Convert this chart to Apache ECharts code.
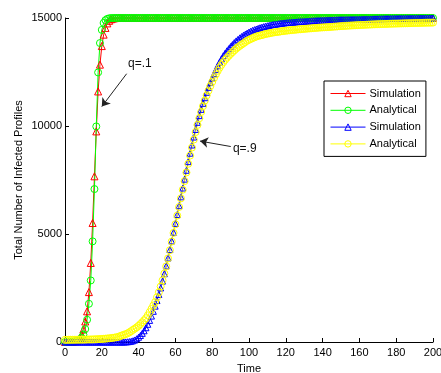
<!DOCTYPE html>
<html>
<head>
<meta charset="utf-8">
<script src="https://cdn.jsdelivr.net/npm/echarts@6/dist/echarts.min.js"></script>
<style>html,body{margin:0;padding:0;background:#fff}#c{width:441px;height:373px}</style>
</head>
<body>
<div id="c"></div>
<script>
// Time runs 0..200 in steps of 1 (index = time)
const xTicks = [0,20,40,60,80,100,120,140,160,180,200];
const yTicks = [0,5000,10000,15000];
const seriesNames = ['Simulation','Analytical','Simulation ','Analytical '];
const seriesColors = ['#ff0000','#00ff00','#0000ff','#ffff00'];
const seriesSymbols = ['triangle','circle','triangle','circle'];

const simQ1 = [
1,2,4,8,15,30,55,100,180,330,
580,950,1420,2310,3660,5510,7670,9750,11600,12840,
13700,14230,14540,14750,14870,14940,14970,14990,15000,15000,
15000,15000,15000,15000,15000,15000,15000,15000,15000,15000,
15000,15000,15000,15000,15000,15000,15000,15000,15000,15000,
15000,15000,15000,15000,15000,15000,15000,15000,15000,15000,
15000,15000,15000,15000,15000,15000,15000,15000,15000,15000,
15000,15000,15000,15000,15000,15000,15000,15000,15000,15000,
15000,15000,15000,15000,15000,15000,15000,15000,15000,15000,
15000,15000,15000,15000,15000,15000,15000,15000,15000,15000,
15000,15000,15000,15000,15000,15000,15000,15000,15000,15000,
15000,15000,15000,15000,15000,15000,15000,15000,15000,15000,
15000,15000,15000,15000,15000,15000,15000,15000,15000,15000,
15000,15000,15000,15000,15000,15000,15000,15000,15000,15000,
15000,15000,15000,15000,15000,15000,15000,15000,15000,15000,
15000,15000,15000,15000,15000,15000,15000,15000,15000,15000,
15000,15000,15000,15000,15000,15000,15000,15000,15000,15000,
15000,15000,15000,15000,15000,15000,15000,15000,15000,15000,
15000,15000,15000,15000,15000,15000,15000,15000,15000,15000,
15000,15000,15000,15000,15000,15000,15000,15000,15000,15000,
15000
];

const anaQ1 = [
1,2,3,6,11,20,35,62,110,195,
340,600,1030,1770,2850,4660,7080,9980,12480,13840,
14450,14770,14900,14960,14985,14995,15000,15000,15000,15000,
15000,15000,15000,15000,15000,15000,15000,15000,15000,15000,
15000,15000,15000,15000,15000,15000,15000,15000,15000,15000,
15000,15000,15000,15000,15000,15000,15000,15000,15000,15000,
15000,15000,15000,15000,15000,15000,15000,15000,15000,15000,
15000,15000,15000,15000,15000,15000,15000,15000,15000,15000,
15000,15000,15000,15000,15000,15000,15000,15000,15000,15000,
15000,15000,15000,15000,15000,15000,15000,15000,15000,15000,
15000,15000,15000,15000,15000,15000,15000,15000,15000,15000,
15000,15000,15000,15000,15000,15000,15000,15000,15000,15000,
15000,15000,15000,15000,15000,15000,15000,15000,15000,15000,
15000,15000,15000,15000,15000,15000,15000,15000,15000,15000,
15000,15000,15000,15000,15000,15000,15000,15000,15000,15000,
15000,15000,15000,15000,15000,15000,15000,15000,15000,15000,
15000,15000,15000,15000,15000,15000,15000,15000,15000,15000,
15000,15000,15000,15000,15000,15000,15000,15000,15000,15000,
15000,15000,15000,15000,15000,15000,15000,15000,15000,15000,
15000,15000,15000,15000,15000,15000,15000,15000,15000,15000,
15000
];

const simQ9 = [
0,0,0,0,0,0,0,0,0,0,
0,0,0,0,0,0,0,0,0,0,
0,0,0,0,0,0,0,0,0,0,
0,0,0,5,10,20,35,60,95,150,
220,300,400,520,660,820,1000,1200,1420,1660,
1920,2200,2500,2820,3160,3520,3890,4280,4680,5080,
5490,5900,6310,6720,7130,7540,7950,8350,8740,9120,
9490,9840,10170,10480,10770,11050,11310,11560,11790,12010,
12220,12420,12610,12790,12960,13110,13250,13370,13480,13580,
13680,13770,13860,13940,14010,14080,14140,14200,14250,14300,
14350,14390,14430,14460,14490,14520,14550,14575,14600,14620,
14640,14660,14680,14700,14710,14720,14735,14750,14760,14770,
14780,14790,14800,14805,14810,14815,14820,14830,14835,14840,
14845,14850,14855,14860,14865,14870,14875,14880,14885,14890,
14893,14896,14899,14902,14905,14908,14911,14914,14917,14920,
14922,14924,14926,14928,14930,14932,14934,14936,14938,14940,
14942,14944,14946,14948,14950,14952,14954,14956,14958,14960,
14962,14964,14966,14968,14970,14972,14974,14976,14978,14980,
14981,14982,14983,14984,14985,14986,14987,14988,14989,14990,
14991,14992,14993,14994,14995,14996,14997,14998,14999,15000,
15000
];

const anaQ9 = [
100,100,101,102,103,104,105,106,108,109,
110,112,114,116,118,120,124,128,132,136,
140,147,155,163,171,180,192,206,220,235,
275,305,335,365,400,450,505,565,620,680,
750,830,915,1005,1100,1230,1380,1530,1690,1850,
2070,2300,2570,2850,3170,3500,3870,4250,4650,5050,
5450,5850,6250,6650,7050,7450,7850,8250,8630,9000,
9370,9720,10050,10360,10650,10920,11180,11420,11640,11850,
12040,12220,12390,12550,12700,12830,12950,13060,13160,13250,
13340,13420,13500,13580,13650,13710,13770,13830,13890,13950,
13990,14030,14070,14110,14140,14170,14190,14210,14235,14260,
14275,14290,14310,14325,14340,14350,14360,14375,14390,14400,
14410,14420,14430,14440,14450,14455,14465,14475,14480,14490,
14497,14504,14511,14518,14525,14532,14539,14546,14553,14560,
14565,14570,14575,14580,14585,14590,14600,14605,14610,14620,
14625,14630,14635,14640,14645,14650,14655,14660,14665,14670,
14674,14678,14682,14686,14690,14694,14698,14702,14706,14710,
14713,14716,14719,14722,14725,14728,14731,14734,14737,14740,
14742,14745,14747,14750,14752,14755,14757,14760,14762,14765,
14767,14769,14771,14773,14775,14777,14779,14781,14783,14785,
14787
];

const FONT = 'Liberation Sans, Arial, sans-serif';
const pairs = arr => arr.map((v, i) => [i, v]);
const allData = [simQ1, anaQ1, simQ9, anaQ9];
const sizes = [7, 7, 6, 7];

const series = allData.map((d, k) => ({
  name: seriesNames[k],
  type: 'line',
  data: pairs(d),
  symbol: seriesSymbols[k],
  symbolSize: sizes[k],
  showAllSymbol: true,
  lineStyle: { color: seriesColors[k], width: 1 },
  itemStyle: { color: 'rgba(0,0,0,0)', borderColor: seriesColors[k], borderWidth: 1 },
  emphasis: { disabled: true },
  z: 2
}));

series[3].markLine = {
  silent: true,
  animation: false,
  symbol: ['none', 'arrow'],
  symbolSize: 8,
  label: { show: false },
  lineStyle: { color: '#222', width: 1, type: 'solid' },
  data: [
    [{ coord: [33.5, 12420] }, { coord: [20.0, 10900] }],
    [{ coord: [90.1, 9050] }, { coord: [73.4, 9300] }]
  ]
};
series[3].markPoint = {
  silent: true,
  animation: false,
  symbol: 'circle',
  symbolSize: 1,
  itemStyle: { color: 'rgba(0,0,0,0)', borderWidth: 0 },
  label: { show: true, position: 'right', distance: 0, color: '#111', fontFamily: FONT, fontSize: 12 },
  data: [
    { coord: [34.0, 12870], label: { formatter: 'q=.1' } },
    { coord: [91.0, 8950], label: { formatter: 'q=.9' } }
  ]
};

const option = {
  animation: false,
  backgroundColor: '#fff',
  textStyle: { fontFamily: FONT },
  grid: { left: 65, right: 8, top: 18, bottom: 31, containLabel: false, outerBoundsMode: 'none' },
  legend: {
    data: seriesNames.map((n, k) => ({
      name: n,
      itemStyle: { color: 'rgba(0,0,0,0)', borderColor: seriesColors[k], borderWidth: 1 },
      lineStyle: { color: seriesColors[k], width: 1 }
    })),
    orient: 'vertical',
    left: 324,
    top: 81,
    padding: [7, 2, 7, 6],
    itemWidth: 35,
    itemHeight: 8,
    itemGap: 5.8,
    backgroundColor: '#fff',
    borderColor: '#000',
    borderWidth: 1,
    borderRadius: 0,
    textStyle: { color: '#000', fontSize: 11, fontFamily: FONT, padding: [0, 0, 0, -1] }
  },
  xAxis: {
    type: 'value',
    min: xTicks[0],
    max: xTicks[xTicks.length - 1],
    interval: xTicks[1] - xTicks[0],
    name: 'Time',
    nameLocation: 'middle',
    nameGap: 21,
    nameMoveOverlap: false,
    nameTextStyle: { color: '#000', fontSize: 11, fontFamily: FONT },
    axisLine: { show: true, lineStyle: { color: '#000', width: 1 } },
    axisTick: { show: true, inside: true, length: 4, lineStyle: { color: '#000' } },
    axisLabel: { color: '#000', fontSize: 11, fontFamily: FONT, margin: 5 },
    splitLine: { show: false }
  },
  yAxis: {
    type: 'value',
    min: yTicks[0],
    max: yTicks[yTicks.length - 1],
    interval: yTicks[1] - yTicks[0],
    name: 'Total Number of Infected Profiles',
    nameLocation: 'middle',
    nameGap: 41,
    nameMoveOverlap: false,
    nameTextStyle: { color: '#000', fontSize: 11, fontFamily: FONT },
    axisLine: { show: true, lineStyle: { color: '#000', width: 1 } },
    axisTick: { show: true, inside: true, length: 4, lineStyle: { color: '#000' } },
    axisLabel: { color: '#000', fontSize: 11, fontFamily: FONT, margin: 3, formatter: v => String(v) },
    splitLine: { show: false }
  },
  series: series
};

const chart = echarts.init(document.getElementById('c'), null, { renderer: 'canvas' });
chart.setOption(option);
</script>
</body>
</html>
